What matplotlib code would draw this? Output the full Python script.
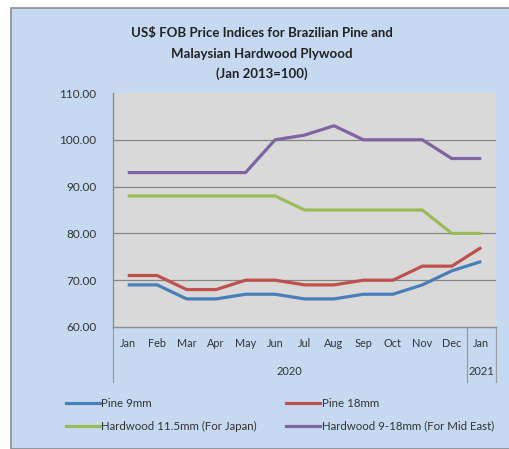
import matplotlib.pyplot as plt
from matplotlib.patches import Rectangle
from matplotlib.lines import Line2D

months = ['Jan', 'Feb', 'Mar', 'Apr', 'May', 'Jun', 'Jul', 'Aug', 'Sep', 'Oct', 'Nov', 'Dec', 'Jan']
years = ['2020', '2021']
pine_9 = [69, 69, 66, 66, 67, 67, 66, 66, 67, 67, 69, 72, 74]
pine_18 = [71, 71, 68, 68, 70, 70, 69, 69, 70, 70, 73, 73, 77]
hw_japan = [88, 88, 88, 88, 88, 88, 85, 85, 85, 85, 85, 80, 80]
hw_mideast = [93, 93, 93, 93, 93, 100, 101, 103, 100, 100, 100, 96, 96]
series_names = ['Pine 9mm', 'Pine 18mm', 'Hardwood 11.5mm (For Japan)', 'Hardwood 9-18mm (For Mid East)']
colors = ['#4a7ebb', '#c0504d', '#9bbb59', '#8064a2']

plt.rcParams['font.family'] = ['Lato', 'DejaVu Sans']

W, H = 509, 449
fig = plt.figure(figsize=(W / 100, H / 100), dpi=100)
fig.patch.set_facecolor('white')

# chart area box
fig.patches.append(Rectangle((11 / W, 0.5 / H), (W - 10) / W, (H - 8.5) / H, transform=fig.transFigure,
                             facecolor='#c6d9f0', edgecolor='#8c8c8c', linewidth=1.2, zorder=-5))

ax = fig.add_axes([113 / W, (H - 327) / H, 383 / W, 234 / H])
ax.set_zorder(2)
ax.set_facecolor('#d9d9d9')
x = list(range(len(months)))
for vals, c, name in zip([pine_9, pine_18, hw_japan, hw_mideast], colors, series_names):
    ax.plot(x, vals, color=c, linewidth=2.3, solid_joinstyle='round', solid_capstyle='butt',
            label=name, zorder=3)

ax.set_xlim(-0.5, len(months) - 0.5)
ax.set_ylim(60, 110)
ax.set_yticks([60, 70, 80, 90, 100, 110])
ax.set_yticklabels([f'{v:.2f}' for v in [60, 70, 80, 90, 100, 110]], fontsize=8.5, color='#333333')
for v in [70, 80, 90, 100]:
    ax.axhline(v, color='#858585', linewidth=0.9, zorder=1)
ax.tick_params(axis='y', length=0, pad=12)
ax.set_xticks(x)
ax.set_xticklabels(months, fontsize=7.8, color='#333333')
ax.tick_params(axis='x', length=0, pad=8)
for s in ['top', 'right']:
    ax.spines[s].set_visible(False)
ax.spines['left'].set_color('#8c8c8c')
ax.spines['bottom'].set_color('#8c8c8c')
ax.spines['left'].set_linewidth(1.0)
ax.spines['bottom'].set_linewidth(1.0)

# category group separators and year labels
for xs in [-0.5, 11.5, 12.5]:
    ax.plot([xs, xs], [60, 48.2], color='#9a9a9a', linewidth=0.9, clip_on=False)
ax.text(5.5, 50.5, years[0], ha='center', va='center', fontsize=8, color='#333333')
ax.text(12.0, 50.5, years[1], ha='center', va='center', fontsize=8, color='#333333')

fig.text(262 / W, 1 - 33 / H, 'US$ FOB Price Indices for Brazilian Pine and', ha='center', va='center',
         fontsize=9.5, fontweight='bold', color='#222222')
fig.text(262 / W, 1 - 53.5 / H, 'Malaysian Hardwood Plywood', ha='center', va='center',
         fontsize=9.5, fontweight='bold', color='#222222')
fig.text(262 / W, 1 - 74 / H, '(Jan 2013=100)', ha='center', va='center',
         fontsize=9.5, fontweight='bold', color='#222222')

# legend, filled row by row
order = [0, 2, 1, 3]
handles = [Line2D([0], [0], color=colors[i], linewidth=2.3) for i in order]
labels = [series_names[i] for i in order]
leg = fig.legend(handles, labels, ncol=2, loc='upper left', bbox_to_anchor=(61 / W, 1 - 393 / H),
                 fontsize=8.3, frameon=False, handlelength=3.0, handletextpad=0.1,
                 columnspacing=2.5, labelspacing=1.05, borderaxespad=0)
for t in leg.get_texts():
    t.set_color('#333333')

fig.savefig('out.png', dpi=100)
